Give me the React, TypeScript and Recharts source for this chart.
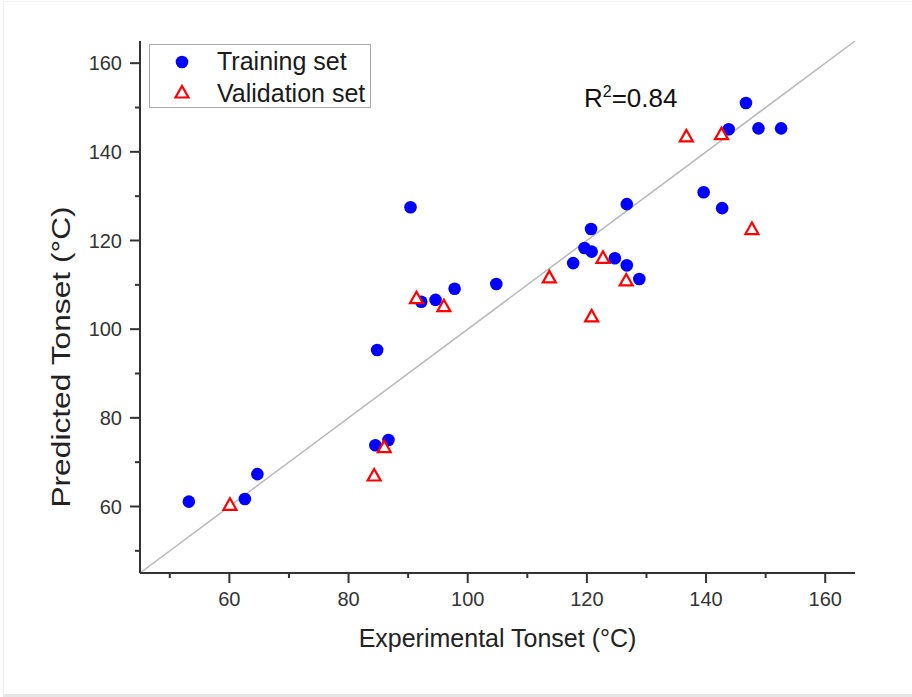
import {
  ScatterChart,
  Scatter,
  XAxis,
  YAxis,
  ReferenceLine,
  Legend,
} from "recharts";

const font = "'Liberation Sans', Arial, sans-serif";

// Training set (blue dots): experimental vs predicted Tonset
const trainExp = [53.2, 62.6, 64.7, 84.8, 84.5, 86.7, 90.4, 92.2, 94.6, 97.8, 104.8, 117.7, 119.6, 120.8, 120.7, 124.7, 126.7, 126.7, 128.8, 139.6, 142.7, 143.8, 146.7, 148.8, 152.6];
const trainPred = [61.1, 61.7, 67.3, 95.3, 73.8, 75.0, 127.5, 106.2, 106.6, 109.1, 110.2, 114.9, 118.3, 117.5, 122.6, 116.0, 128.2, 114.4, 111.3, 130.9, 127.3, 145.1, 151.0, 145.3, 145.3];

// Validation set (red triangles)
const valExp = [60.1, 84.3, 86.0, 91.4, 96.0, 113.7, 120.8, 122.7, 126.6, 136.7, 142.6, 147.7];
const valPred = [60.5, 67.1, 73.5, 107.1, 105.3, 111.8, 103.0, 116.2, 111.1, 143.6, 144.1, 122.7];

const axisTicks = [50, 60, 70, 80, 90, 100, 110, 120, 130, 140, 150, 160];
const domain: [number, number] = [45, 165];

const training = trainExp.map((x, i) => ({ x, y: trainPred[i] }));
const validation = valExp.map((x, i) => ({ x, y: valPred[i] }));

const Dot = (p: any) => <circle cx={p.cx} cy={p.cy} r={6.3} fill="#0000ff" />;

const Tri = (p: any) => (
  <polygon
    points={`${p.cx},${p.cy - 6} ${p.cx - 6.5},${p.cy + 5.5} ${p.cx + 6.5},${p.cy + 5.5}`}
    fill="#fff"
    stroke="#ff0000"
    strokeWidth={2.2}
  />
);

const XTick = (p: any) => {
  const major = p.payload.value % 20 === 0;
  return (
    <g>
      <line x1={p.x} x2={p.x} y1={p.y} y2={p.y + (major ? 10 : 5)} stroke="#333" strokeWidth={2} />
      {major && (
        <text x={p.x} y={p.y + 33} textAnchor="middle" fontSize={20} fill="#333" fontFamily={font}>
          {p.payload.value}
        </text>
      )}
    </g>
  );
};

const YTick = (p: any) => {
  const major = p.payload.value % 20 === 0;
  return (
    <g>
      <line x1={p.x - (major ? 10 : 5)} x2={p.x} y1={p.y} y2={p.y} stroke="#333" strokeWidth={2} />
      {major && (
        <text x={p.x - 18} y={p.y + 7} textAnchor="end" fontSize={20} fill="#333" fontFamily={font}>
          {p.payload.value}
        </text>
      )}
    </g>
  );
};

const renderLegend = () => (
  <div
    style={{
      width: 222,
      height: 64,
      border: "1.5px solid #aaa",
      fontFamily: font,
      fontSize: 25,
      color: "#1a1a1a",
      boxSizing: "border-box",
      position: "relative",
    }}
  >
    <svg width={30} height={62} style={{ position: "absolute", left: 17, top: 0 }}>
      <circle cx={15} cy={17} r={6.3} fill="#0000ff" />
      <polygon points="15,41 8.5,52.5 21.5,52.5" fill="#fff" stroke="#ff0000" strokeWidth={2.2} />
    </svg>
    <div style={{ position: "absolute", left: 67, top: 2, lineHeight: "28px", whiteSpace: "nowrap" }}>Training set</div>
    <div style={{ position: "absolute", left: 67, top: 34, lineHeight: "28px", whiteSpace: "nowrap" }}>Validation set</div>
  </div>
);

export default function App() {
  return (
    <div style={{ position: "absolute", left: 0, top: 0, width: 912, height: 697, background: "#fff" }}>
      <div
        style={{
          position: "absolute",
          left: 3,
          top: 1,
          width: 908,
          height: 692,
          borderLeft: "1px solid #efefef",
          borderTop: "1px solid #f3f3f3",
          borderBottom: "3px solid #e6e6e6",
        }}
      />
      <ScatterChart
        width={912}
        height={697}
        margin={{ top: 41, right: 57, left: 0, bottom: 0 }}
        style={{ position: "absolute", left: 0, top: 0 }}
      >
        <XAxis
          type="number"
          dataKey="x"
          domain={domain}
          ticks={axisTicks}
          allowDataOverflow
          height={124}
          tickSize={0}
          tickMargin={0}
          tick={<XTick />}
          axisLine={{ stroke: "#333", strokeWidth: 2 }}
          tickLine={false}
          interval={0}
          label={({ viewBox }: any) => (
            <text
              x={viewBox.x + viewBox.width / 2}
              y={viewBox.y + 74}
              textAnchor="middle"
              fontSize={25}
              fill="#222"
              fontFamily={font}
            >
              Experimental Tonset (°C)
            </text>
          )}
        />
        <YAxis
          type="number"
          dataKey="y"
          domain={domain}
          ticks={axisTicks}
          allowDataOverflow
          width={140}
          tickSize={0}
          tickMargin={0}
          tick={<YTick />}
          axisLine={{ stroke: "#333", strokeWidth: 2 }}
          tickLine={false}
          interval={0}
          label={({ viewBox }: any) => {
            const cx = viewBox.x + 61;
            const cy = viewBox.y + viewBox.height / 2 + 50;
            return (
              <text
                x={0}
                y={0}
                transform={`translate(${cx} ${cy}) rotate(-90) scale(1.22 1)`}
                textAnchor="middle"
                dominantBaseline="central"
                fontSize={26}
                fill="#222"
                fontFamily={font}
              >
                Predicted Tonset (°C)
              </text>
            );
          }}
        />
        <ReferenceLine
          segment={[
            { x: domain[0], y: domain[0] },
            { x: domain[1], y: domain[1] },
          ]}
          stroke="#b8b8b8"
          strokeWidth={1.5}
        />
        <Legend
          layout="vertical"
          align="center"
          verticalAlign="middle"
          content={renderLegend}
          wrapperStyle={{ left: 149, top: 44, width: 222, height: 64 }}
        />
        <Scatter name="Training set" data={training} shape={Dot} isAnimationActive={false} />
        <Scatter name="Validation set" data={validation} shape={Tri} isAnimationActive={false} />
      </ScatterChart>
      <div
        style={{
          position: "absolute",
          left: 584,
          top: 85,
          fontFamily: font,
          fontSize: 26,
          lineHeight: "26px",
          color: "#111",
          whiteSpace: "nowrap",
        }}
      >
        R<span style={{ fontSize: 16, position: "relative", top: -10 }}>2</span>=0.84
      </div>
    </div>
  );
}
